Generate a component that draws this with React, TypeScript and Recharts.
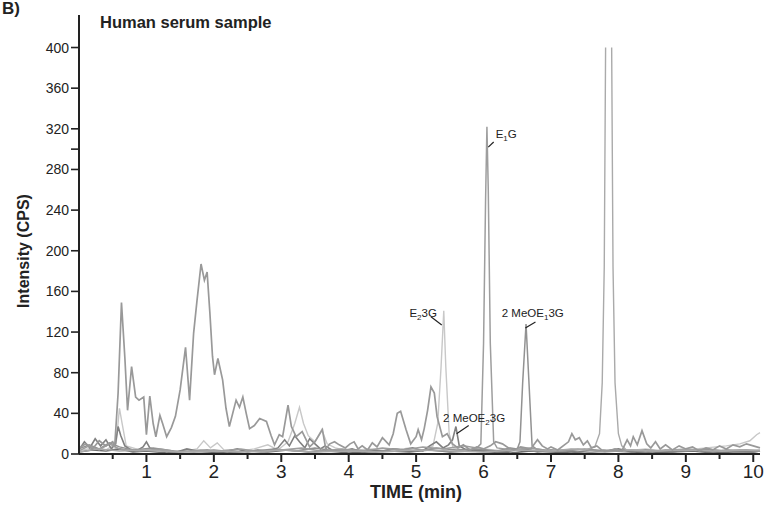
import React from 'react';
import { LineChart, Line, XAxis, YAxis, ReferenceLine, ReferenceDot } from 'recharts';

type Pt = [number, number | null];

// main broad trace (early matrix hump + late noise)
const mainTrace: Pt[] = [
  [0, 6], [0.1, 10], [0.2, 5], [0.3, 13], [0.4, 8], [0.5, 12], [0.53, 8], [0.58, 60], [0.63, 149], [0.68, 95],
  [0.72, 43], [0.78, 86], [0.84, 56], [0.89, 53], [0.96, 56], [1.0, 19], [1.05, 57], [1.1, 30], [1.14, 17], [1.2, 38],
  [1.24, 30], [1.3, 17], [1.37, 26], [1.43, 37], [1.5, 63], [1.58, 105], [1.64, 53], [1.7, 119], [1.75, 151], [1.81, 187],
  [1.86, 171], [1.9, 179], [1.94, 140], [1.98, 96], [2.01, 78], [2.06, 94], [2.13, 73], [2.18, 45], [2.23, 27], [2.33, 53],
  [2.38, 46], [2.43, 56], [2.48, 40], [2.53, 25], [2.6, 28], [2.68, 35], [2.78, 32], [2.85, 18], [2.9, 9], [2.97, 19],
  [3.02, 17], [3.1, 48], [3.15, 27], [3.22, 17], [3.31, 22], [3.42, 7], [3.5, 12], [3.61, 24], [3.66, 5], [3.72, 10],
  [3.79, 12], [3.86, 9], [3.95, 6], [4.02, 10], [4.08, 12], [4.14, 5], [4.2, 8], [4.28, 4], [4.35, 11], [4.42, 7],
  [4.5, 16], [4.6, 9], [4.66, 20], [4.72, 40], [4.77, 42], [4.85, 24], [4.92, 10], [5.0, 17], [5.03, 24], [5.08, 14],
  [5.12, 25], [5.17, 43], [5.22, 66], [5.27, 60], [5.31, 37], [5.39, 17], [5.46, 20], [5.54, 10], [5.62, 6], [5.7, 9],
  [5.8, 4], [5.9, 7], [6.0, 5], [6.1, 8], [6.18, 12], [6.28, 10], [6.37, 6], [6.45, 4], [6.55, 7], [6.7, 5],
  [6.8, 14], [6.87, 8], [6.95, 5], [7.0, 7], [7.1, 4], [7.2, 9], [7.26, 12], [7.31, 20], [7.36, 14], [7.42, 16],
  [7.48, 9], [7.54, 13], [7.6, 6], [7.68, 8], [7.75, 4], [7.85, 3], [7.95, 5], [8.05, 3], [8.13, 14], [8.18, 8],
  [8.22, 17], [8.28, 9], [8.35, 23], [8.42, 10], [8.48, 6], [8.55, 12], [8.62, 5], [8.7, 9], [8.8, 4], [8.9, 8],
  [9.0, 5], [9.1, 7], [9.2, 3], [9.3, 6], [9.4, 4], [9.5, 8], [9.6, 5], [9.7, 9], [9.8, 7], [9.9, 10], [10.0, 8], [10.1, 6],
];

const e1gTrace: Pt[] = [
  [0, 3], [0.15, 8], [0.3, 4], [0.45, 10], [0.6, 5], [0.9, 3], [1.2, 5], [1.5, 2], [1.8, 4], [2.1, 3],
  [2.4, 5], [2.7, 2], [3.0, 4], [3.3, 6], [3.6, 3], [3.9, 5], [4.2, 3], [4.5, 6], [4.8, 4], [5.1, 7],
  [5.4, 5], [5.7, 8], [5.9, 6], [5.96, 10], [6.0, 109], [6.03, 250], [6.05, 322], [6.07, 260], [6.1, 109], [6.15, 12],
  [6.2, 6], [6.4, 4], [6.7, 6], [7.0, 3], [7.4, 5], [7.8, 2], [8.2, 4], [8.6, 3], [9.0, 5], [9.4, 3], [9.8, 4], [10.1, 3],
];

const meoE1Trace: Pt[] = [
  [0, 5], [0.15, 9], [0.3, 5], [0.45, 11], [0.6, 7], [0.8, 4], [1.1, 6], [1.4, 3], [1.7, 2], [2.0, 4],
  [2.3, 2], [2.6, 3], [2.9, 5], [3.2, 3], [3.5, 6], [3.8, 3], [4.1, 4], [4.4, 2], [4.7, 5], [5.0, 3],
  [5.3, 6], [5.6, 4], [5.9, 5], [6.2, 3], [6.4, 6], [6.5, 5], [6.54, 12], [6.58, 70], [6.63, 128], [6.67, 75],
  [6.72, 8], [6.78, 5], [6.9, 4], [7.2, 3], [7.5, 5], [7.8, 3], [8.1, 4], [8.4, 2], [8.7, 4], [9.0, 3],
  [9.3, 5], [9.6, 3], [9.9, 4], [10.1, 3],
];

const e23gTrace: Pt[] = [
  [0, 3], [0.2, 6], [0.4, 4], [0.55, 10], [0.6, 45], [0.64, 30], [0.7, 8], [0.9, 4], [1.2, 3], [1.5, 2],
  [1.75, 5], [1.85, 13], [1.95, 6], [2.05, 11], [2.15, 4], [2.4, 3], [2.6, 5], [2.8, 9], [2.95, 4], [3.1, 12],
  [3.2, 30], [3.27, 46], [3.33, 30], [3.4, 18], [3.5, 12], [3.6, 24], [3.68, 10], [3.8, 6], [4.0, 3], [4.3, 5],
  [4.6, 3], [4.9, 6], [5.1, 4], [5.25, 8], [5.32, 30], [5.37, 86], [5.41, 141], [5.44, 86], [5.49, 20], [5.55, 6],
  [5.7, 4], [6.0, 5], [6.3, 3], [6.6, 5], [6.9, 3], [7.2, 4], [7.5, 2], [7.8, 4], [8.1, 3], [8.4, 5],
  [8.7, 3], [9.0, 4], [9.3, 6], [9.6, 8], [9.8, 10], [9.95, 13], [10.05, 19], [10.1, 21],
];

const meoE2Trace: Pt[] = [
  [0, 4], [0.08, 12], [0.16, 6], [0.24, 15], [0.32, 8], [0.4, 14], [0.48, 5], [0.54, 10], [0.58, 27], [0.62, 18],
  [0.68, 8], [0.75, 5], [0.85, 3], [0.95, 7], [1.0, 12], [1.05, 6], [1.15, 4], [1.3, 3], [1.45, 2], [1.6, 5],
  [1.75, 3], [1.9, 4], [2.05, 2], [2.2, 3], [2.35, 5], [2.5, 2], [2.65, 4], [2.8, 3], [2.95, 6], [3.05, 14],
  [3.12, 8], [3.2, 18], [3.27, 12], [3.35, 6], [3.42, 15], [3.5, 10], [3.58, 5], [3.65, 8], [3.75, 4], [3.9, 3],
  [4.05, 5], [4.2, 2], [4.35, 4], [4.5, 3], [4.65, 5], [4.8, 4], [4.95, 6], [5.1, 3], [5.2, 8], [5.3, 12],
  [5.4, 6], [5.48, 9], [5.54, 14], [5.59, 27], [5.64, 8], [5.72, 5], [5.85, 3], [6.0, 4], [6.2, 2], [6.4, 3],
  [6.6, 5], [6.8, 2], [7.0, 4], [7.2, 3], [7.4, 2], [7.6, 4], [7.8, 3], [8.0, 5], [8.2, 2], [8.4, 4],
  [8.6, 3], [8.8, 2], [9.0, 4], [9.2, 3], [9.4, 2], [9.6, 4], [9.8, 3], [10.0, 2], [10.1, 3],
];

const baseTrace: Pt[] = [
  [0, 2], [0.2, 4], [0.4, 3], [0.6, 5], [0.8, 2], [1.0, 3], [1.3, 1], [1.6, 3], [1.9, 2], [2.2, 1],
  [2.5, 3], [2.8, 2], [3.1, 4], [3.4, 2], [3.7, 3], [4.0, 1], [4.3, 2], [4.6, 3], [4.9, 2], [5.2, 4],
  [5.5, 2], [5.8, 3], [6.1, 2], [6.4, 1], [6.7, 3], [7.0, 2], [7.3, 1], [7.6, 2], [7.9, 3], [8.2, 2],
  [8.5, 1], [8.8, 2], [9.1, 3], [9.4, 1], [9.7, 2], [10.0, 2], [10.1, 3],
];

// off-scale peak near 7.85 min (clipped at the top)
const bigPeakTrace: Pt[] = [
  [0, 2], [0.3, 5], [0.6, 3], [1.0, 4], [1.5, 2], [2.0, 3], [2.5, 2], [3.0, 4], [3.5, 2], [4.0, 3],
  [4.5, 2], [5.0, 4], [5.5, 3], [6.0, 2], [6.5, 4], [7.0, 3], [7.3, 5], [7.5, 4], [7.65, 7], [7.72, 20],
  [7.76, 70], [7.79, 184], [7.81, 400], [7.855, null], [7.9, 400], [7.92, 184], [7.95, 70], [8.0, 20], [8.05, 8], [8.12, 4],
  [8.5, 3], [9.0, 4], [9.5, 3], [10.1, 4],
];

const yTicks = [0, 40, 80, 120, 160, 200, 240, 280, 320, 360, 400];
const yMinorTicks = [300];
const xMajorTicks = [1, 2, 3, 4, 5, 6, 7, 8, 9, 10];
const xMinorTicks = [0.5, 1.5, 2.5, 3.5, 4.5, 5.5, 6.5, 7.5, 8.5, 9.5];

type Anno = { x: number; y: number; main: string; sub: string; rest: string; from: [number, number]; to: [number, number] };
const annotations: Anno[] = [
  { x: 6.18, y: 311, main: 'E', sub: '1', rest: 'G', from: [6.07, 302], to: [6.15, 307] },
  { x: 4.9, y: 135, main: 'E', sub: '2', rest: '3G', from: [5.22, 135], to: [5.38, 127] },
  { x: 6.27, y: 135, main: '2 MeOE', sub: '1', rest: '3G', from: [6.77, 130], to: [6.62, 124] },
  { x: 5.4, y: 31, main: '2 MeOE', sub: '2', rest: '3G', from: [5.78, 28], to: [5.6, 20] },
];

const toRows = (pts: Pt[]) => pts.map(([t, v]) => ({ t, v }));

const series = [
  { name: 'base', data: toRows(baseTrace), color: '#6e6e6e', width: 1.7 },
  { name: 'e23g', data: toRows(e23gTrace), color: '#c8c8c8', width: 1.4 },
  { name: 'meoE2', data: toRows(meoE2Trace), color: '#808080', width: 1.6 },
  { name: 'meoE1', data: toRows(meoE1Trace), color: '#929292', width: 1.5 },
  { name: 'e1g', data: toRows(e1gTrace), color: '#9e9e9e', width: 1.5 },
  { name: 'big', data: toRows(bigPeakTrace), color: '#aaaaaa', width: 1.4 },
  { name: 'main', data: toRows(mainTrace), color: '#999999', width: 1.7 },
];

const font = '"Liberation Sans", Arial, Helvetica, sans-serif';

function XTick({ x, y, payload }: any) {
  const major = xMajorTicks.includes(payload.value);
  return (
    <g>
      <line x1={x} x2={x} y1={y - 1} y2={y + (major ? 8 : 5)} stroke="#222" strokeWidth={2} />
      {major && (
        <text x={x} y={y + 24} textAnchor="middle" fontSize={19} fill="#222" fontFamily={font}>
          {payload.value}
        </text>
      )}
    </g>
  );
}

function YTick({ x, y, payload }: any) {
  const major = yTicks.includes(payload.value);
  return (
    <g>
      <line x1={x - 8} x2={x} y1={y} y2={y} stroke="#222" strokeWidth={1.6} />
      {major && (
        <text x={x - 10} y={y + 5} textAnchor="end" fontSize={14} fill="#222" fontFamily={font}>
          {payload.value}
        </text>
      )}
    </g>
  );
}

function annoShape(a: Anno) {
  return (p: any) => (
    <text x={p.cx} y={p.cy} fontSize={11.5} fill="#222" fontFamily={font}>
      <tspan>{a.main}</tspan>
      <tspan fontSize={8} dy={3}>{a.sub}</tspan>
      <tspan dy={-3}>{a.rest}</tspan>
    </text>
  );
}

export default function App() {
  return (
    <div style={{ position: 'absolute', left: 0, top: 0, width: 766, height: 511, background: '#fff' }}>
      <LineChart width={766} height={511} margin={{ top: 15, right: 6, left: 0, bottom: 0 }}>
        <XAxis
          type="number"
          dataKey="t"
          domain={[0, 10.1]}
          ticks={[...xMinorTicks, ...xMajorTicks].sort((a, b) => a - b)}
          interval={0}
          tickSize={0}
          tickMargin={0}
          tick={<XTick />}
          height={57}
          axisLine={{ stroke: '#222', strokeWidth: 2 }}
          allowDuplicatedCategory={false}
        />
        <YAxis
          type="number"
          domain={[0, 432]}
          ticks={[...yTicks, ...yMinorTicks].sort((a, b) => a - b)}
          interval={0}
          tickSize={0}
          tickMargin={0}
          tick={<YTick />}
          width={79}
          axisLine={{ stroke: '#222', strokeWidth: 2 }}
        />
        {series.map(s => (
          <Line
            key={s.name}
            data={s.data}
            dataKey="v"
            type="linear"
            stroke={s.color}
            strokeWidth={s.width}
            dot={false}
            activeDot={false}
            isAnimationActive={false}
          />
        ))}
        {annotations.map((a, i) => (
          <ReferenceLine
            key={'l' + i}
            segment={[{ x: a.from[0], y: a.from[1] }, { x: a.to[0], y: a.to[1] }]}
            stroke="#222"
            strokeWidth={1.2}
          />
        ))}
        {annotations.map((a, i) => (
          <ReferenceDot key={'t' + i} x={a.x} y={a.y} r={1} shape={annoShape(a)} />
        ))}
      </LineChart>
      <svg width={766} height={511} style={{ position: 'absolute', left: 0, top: 0, pointerEvents: 'none' }}>
        <text x={2} y={14} fontSize={17} fontWeight="bold" fill="#222" fontFamily={font}>B)</text>
        <text x={100} y={28} fontSize={16.5} fontWeight="bold" fill="#222" fontFamily={font}>Human serum sample</text>
        <text
          x={29}
          y={251}
          transform="rotate(-90 29 251)"
          textAnchor="middle"
          fontSize={16}
          fontWeight="bold"
          fill="#222"
          fontFamily={font}
        >
          Intensity (CPS)
        </text>
        <text x={416} y={498} textAnchor="middle" fontSize={18} fontWeight="bold" fill="#222" fontFamily={font}>
          TIME (min)
        </text>
      </svg>
    </div>
  );
}
